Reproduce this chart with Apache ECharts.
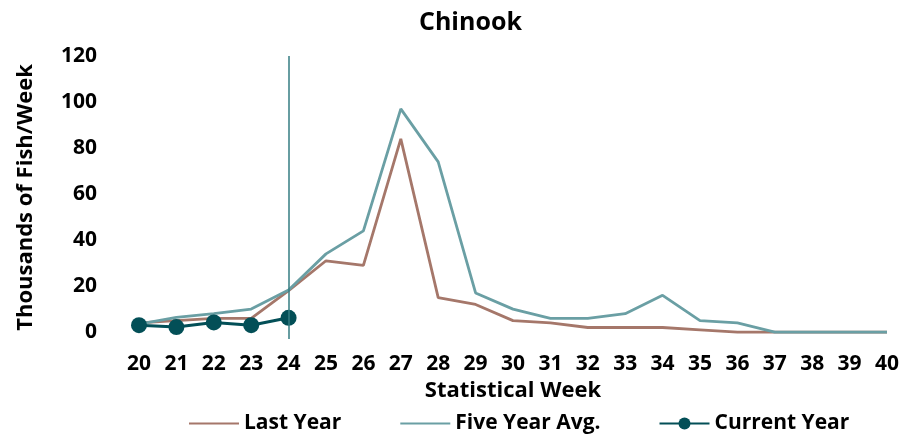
<!DOCTYPE html>
<html>
<head>
<meta charset="utf-8">
<script src="https://cdn.jsdelivr.net/npm/echarts@6/dist/echarts.min.js"></script>
<style>
    html, body { margin: 0; padding: 0; background: #fff; }
    #chart { width: 909px; height: 435px; }
</style>
</head>
<body>
<div id="chart"></div>
<script>
// statistical weeks
var weeks = ['20','21','22','23','24','25','26','27','28','29','30','31','32','33','34','35','36','37','38','39','40'];
// y tick labels
var yTicks = [0, 20, 40, 60, 80, 100, 120];
// thousands of fish per week
var lastYear = [4, 5, 6, 6, 18, 31, 29, 84, 15, 12, 5, 4, 2, 2, 2, 1, 0, 0, 0, 0, 0];
var fiveYearAvg = [3.5, 6.4, 8, 10, 18.3, 34, 44, 97, 74, 17, 10, 6, 6, 8, 16, 5, 4, 0, 0, 0, 0];
var currentYear = [3, 2.2, 4.2, 3, 6.2];
var currentWeek = '24';

var font = '"Open Sans", "Noto Sans", sans-serif';

var option = {
    animation: false,
    title: {
        text: 'Chinook',
        left: 414,
        top: 5,
        textStyle: { fontFamily: font, fontWeight: 'bold', fontSize: 25, color: '#000' }
    },
    legend: {
        top: 408,
        left: 183,
        itemWidth: 50,
        itemHeight: 15,
        itemGap: 58,
        textStyle: { fontFamily: font, fontWeight: 'bold', fontSize: 21, color: '#000' },
        data: [
            { name: 'Last Year', itemStyle: { opacity: 0 } },
            { name: 'Five Year Avg.', itemStyle: { opacity: 0 } },
            { name: 'Current Year' }
        ]
    },
    grid: {
        left: 139,
        right: 22,
        top: 56,
        bottom: 96
    },
    xAxis: {
        type: 'category',
        data: weeks,
        boundaryGap: false,
        name: 'Statistical Week',
        nameLocation: 'middle',
        nameGap: 32,
        nameTextStyle: { fontFamily: font, fontWeight: 'bold', fontSize: 22, color: '#000' },
        axisLine: { show: false, onZero: true },
        axisTick: { show: false },
        axisLabel: { margin: 15, fontFamily: font, fontWeight: 'bold', fontSize: 21, color: '#000' },
        splitLine: { show: false }
    },
    yAxis: {
        type: 'value',
        min: -3,
        max: 120,
        name: 'Thousands of Fish/Week',
        nameLocation: 'middle',
        nameGap: 102,
        nameTextStyle: { fontFamily: font, fontWeight: 'bold', fontSize: 22, color: '#000' },
        axisLine: { show: false },
        axisTick: { show: false },
        axisLabel: { margin: 42, fontFamily: font, fontWeight: 'bold', fontSize: 21, color: '#000', customValues: yTicks },
        splitLine: { show: false }
    },
    series: [
        {
            name: 'Last Year',
            type: 'line',
            data: lastYear,
            symbol: 'none',
            lineStyle: { color: '#a5776a', width: 2.8 },
            itemStyle: { color: '#a5776a' }
        },
        {
            name: 'Five Year Avg.',
            type: 'line',
            data: fiveYearAvg,
            symbol: 'none',
            lineStyle: { color: '#6a9fa4', width: 2.8 },
            itemStyle: { color: '#6a9fa4' }
        },
        {
            name: 'Current Year',
            type: 'line',
            data: currentYear,
            symbol: 'circle',
            symbolSize: 16,
            clip: false,
            lineStyle: { color: '#034f57', width: 3 },
            itemStyle: { color: '#034f57' },
            markLine: {
                silent: true,
                symbol: 'none',
                label: { show: false },
                lineStyle: { color: '#347c82', width: 1.5, type: 'solid' },
                data: [[
                    { coord: [currentWeek, 120] },
                    { coord: [currentWeek, -3] }
                ]]
            }
        }
    ]
};

var chart = echarts.init(document.getElementById('chart'));
chart.setOption(option);
</script>
</body>
</html>
